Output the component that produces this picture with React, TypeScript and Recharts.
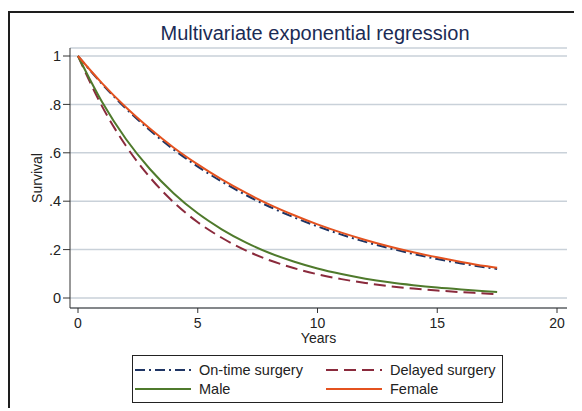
import { LineChart, Line, XAxis, YAxis, CartesianGrid } from "recharts";

const years = [0, 1, 2, 3, 4, 5, 6, 7, 8, 9, 10, 11, 12, 13, 14, 15, 16, 17, 17.5];
const onTimeSurgery = [1, 0.885, 0.783, 0.693, 0.613, 0.543, 0.481, 0.426, 0.377, 0.334, 0.296, 0.262, 0.232, 0.206, 0.182, 0.161, 0.143, 0.127, 0.12];
const delayedSurgery = [1, 0.793, 0.629, 0.499, 0.395, 0.313, 0.249, 0.197, 0.156, 0.124, 0.098, 0.078, 0.062, 0.049, 0.039, 0.031, 0.024, 0.019, 0.016];
const male = [1, 0.811, 0.657, 0.533, 0.432, 0.35, 0.284, 0.23, 0.186, 0.151, 0.122, 0.099, 0.08, 0.065, 0.053, 0.043, 0.035, 0.028, 0.025];
const female = [1, 0.888, 0.788, 0.7, 0.621, 0.552, 0.49, 0.435, 0.386, 0.343, 0.304, 0.27, 0.24, 0.213, 0.189, 0.168, 0.149, 0.132, 0.125];

const xTicks = [0, 5, 10, 15, 20];
const yTicks = [0, 0.2, 0.4, 0.6, 0.8, 1];
const yTickLabels = ["0", ".2", ".4", ".6", ".8", "1"];

const data = years.map((t, i) => ({
  t,
  onTime: onTimeSurgery[i],
  delayed: delayedSurgery[i],
  male: male[i],
  female: female[i],
}));

const series = [
  { key: "onTime", name: "On-time surgery", color: "#1f3564", dash: "10 4 2 4" },
  { key: "delayed", name: "Delayed surgery", color: "#8a2a3c", dash: "12 6" },
  { key: "male", name: "Male", color: "#4f7a2c", dash: undefined },
  { key: "female", name: "Female", color: "#e4521f", dash: undefined },
];

const font = "Arial, 'Liberation Sans', sans-serif";

const LegendBox = () => (
  <div
    style={{
      position: "absolute",
      left: 124,
      top: 347,
      width: 369,
      height: 46,
      border: "1px solid #222",
      background: "#fff",
      fontFamily: font,
      fontSize: 14.5,
      color: "#222",
    }}
  >
    {series.map((s, i) => (
      <div
        key={s.key}
        style={{
          position: "absolute",
          left: i % 2 === 0 ? 2 : 193,
          top: i < 2 ? 4 : 23,
          height: 19,
          display: "flex",
          alignItems: "center",
        }}
      >
        <svg width={56} height={6} style={{ marginRight: 8 }}>
          <line x1={0} y1={3} x2={56} y2={3} stroke={s.color} strokeWidth={2} strokeDasharray={s.dash} />
        </svg>
        <span>{s.name}</span>
      </div>
    ))}
  </div>
);

export default function App() {
  return (
    <div style={{ position: "relative", width: 566, height: 400, overflow: "hidden", background: "#fff" }}>
      <div
        style={{
          position: "absolute",
          left: 0,
          top: 3,
          width: 700,
          height: 500,
          borderLeft: "2px solid #1e1e1e",
          borderTop: "2px solid #1e1e1e",
        }}
      />
      <div
        style={{
          position: "absolute",
          left: 0,
          width: 614,
          top: 14,
          lineHeight: "22px",
          textAlign: "center",
          fontFamily: font,
          fontSize: 20,
          color: "#1b2b55",
        }}
      >
        Multivariate exponential regression
      </div>
      <div style={{ position: "absolute", left: 0, top: 0 }}>
        <LineChart width={566} height={400} data={data} margin={{ top: 40, right: 7, left: 0, bottom: 60 }}>
          <CartesianGrid vertical={false} stroke="#c9d1d9" strokeWidth={1.5} />
          <XAxis
            dataKey="t"
            type="number"
            domain={[0, 20]}
            ticks={xTicks}
            padding={{ left: 8, right: 10 }}
            height={40}
            tickSize={5}
            tickMargin={5}
            stroke="#333"
            tick={{ fill: "#222", fontSize: 14, fontFamily: font }}
            label={{ value: "Years", position: "insideBottom", offset: 5, fill: "#222", fontSize: 14, fontFamily: font }}
          />
          <YAxis
            type="number"
            domain={[0, 1]}
            ticks={yTicks}
            tickFormatter={(v: number) => yTickLabels[yTicks.indexOf(v)] ?? String(v)}
            padding={{ top: 8, bottom: 10 }}
            width={62}
            tickSize={7}
            tickMargin={2}
            stroke="#333"
            tick={{ fill: "#222", fontSize: 14.5, fontFamily: font }}
            label={{
              value: "Survival",
              angle: -90,
              position: "insideLeft",
              offset: 29,
              fill: "#222",
              fontSize: 14,
              fontFamily: font,
              style: { textAnchor: "middle" },
            }}
          />
          {series.map((s) => (
            <Line
              key={s.key}
              dataKey={s.key}
              name={s.name}
              type="monotone"
              stroke={s.color}
              strokeWidth={2}
              strokeDasharray={s.dash}
              dot={false}
              activeDot={false}
              isAnimationActive={false}
            />
          ))}
        </LineChart>
      </div>
      <LegendBox />
    </div>
  );
}
